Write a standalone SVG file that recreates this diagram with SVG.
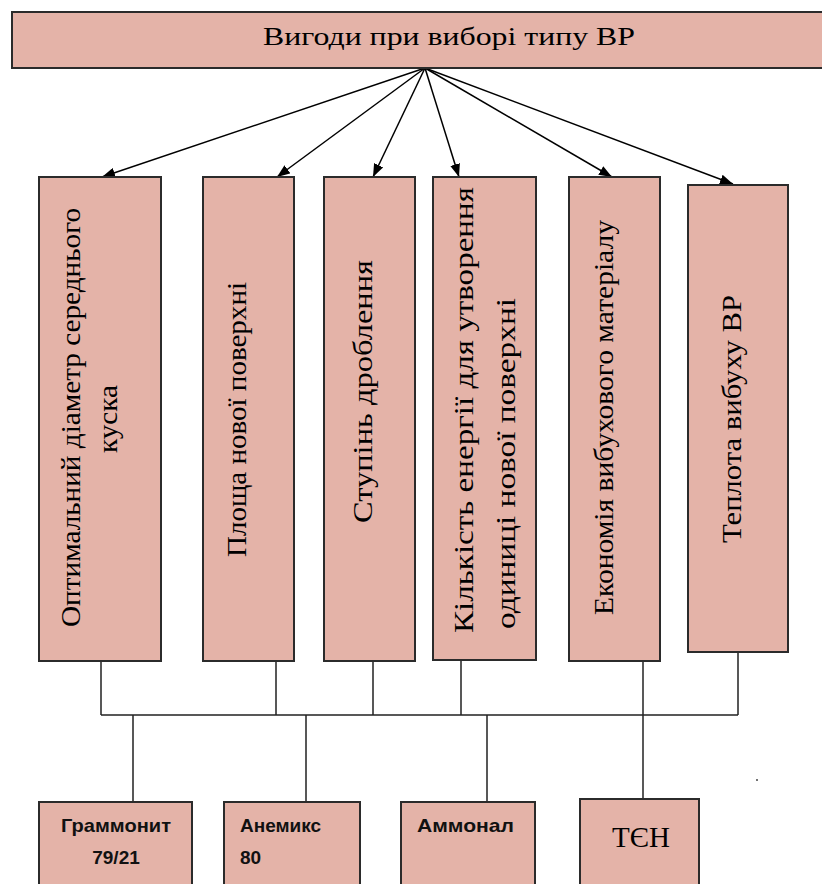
<svg xmlns="http://www.w3.org/2000/svg" width="822" height="884" viewBox="0 0 822 884">
<defs>
<marker id="ah" markerUnits="userSpaceOnUse" markerWidth="13" markerHeight="10" viewBox="0 0 13 10" refX="13" refY="5" orient="auto">
<path d="M0,0 L13,5 L0,10 z" fill="#000"/>
</marker>
<style>
.box{fill:#e4b3a8;stroke:#2b2b2b;stroke-width:2}
.tv{font-family:"Liberation Serif","Times New Roman",serif;font-size:27px;fill:#000}
.tb{font-family:"Liberation Sans",Arial,sans-serif;font-size:19px;font-weight:bold;fill:#111}
.arr{stroke:#000;stroke-width:1.5;fill:none;marker-end:url(#ah)}
.ln{stroke:#222;stroke-width:1.5;fill:none}
</style>
</defs>
<rect width="822" height="884" fill="#fff"/>

<g id="connectors">
<line class="arr" x1="425" y1="68" x2="102" y2="177"/>
<line class="arr" x1="425" y1="68" x2="277" y2="177"/>
<line class="arr" x1="425" y1="68" x2="373" y2="177"/>
<line class="arr" x1="425" y1="68" x2="459" y2="177"/>
<line class="arr" x1="425" y1="68" x2="612" y2="177"/>
<line class="arr" x1="425" y1="68" x2="733" y2="184"/>
<path class="ln" d="M101,661 V715 M276,661 V715 M373,661 V715 M461,661 V715 M738,652 V715 M101,715 H738"/>
<path class="ln" d="M643,661 V799"/>
<path class="ln" d="M133,715 V802 M306,715 V802 M487,715 V802"/>
</g>

<g id="top">
<rect class="box" x="12" y="12" width="820" height="56"/>
<text x="449" y="45" text-anchor="middle" font-family="'Liberation Serif','Times New Roman',serif" font-size="25" textLength="372" lengthAdjust="spacingAndGlyphs">Вигоди при виборі типу ВР</text>
</g>

<g id="n1">
<rect class="box" x="39" y="177" width="122" height="484"/>
<text class="tv" transform="translate(80,417.5) rotate(-90)" text-anchor="middle" textLength="419" lengthAdjust="spacingAndGlyphs">Оптимальний діаметр середнього</text>
<text class="tv" transform="translate(117,419) rotate(-90)" text-anchor="middle" textLength="68" lengthAdjust="spacingAndGlyphs">куска</text>
</g>

<g id="n2">
<rect class="box" x="203" y="177" width="91" height="484"/>
<text class="tv" transform="translate(246,419.5) rotate(-90)" text-anchor="middle" textLength="275" lengthAdjust="spacingAndGlyphs">Площа нової поверхні</text>
</g>

<g id="n3">
<rect class="box" x="324" y="177" width="91" height="484"/>
<text class="tv" transform="translate(372,391.5) rotate(-90)" text-anchor="middle" textLength="263" lengthAdjust="spacingAndGlyphs">Ступінь дроблення</text>
</g>

<g id="n4">
<rect class="box" x="433" y="177" width="103" height="483"/>
<text class="tv" transform="translate(473,633) rotate(-90)" textLength="446" lengthAdjust="spacingAndGlyphs">Кількість енергії для утворення</text>
<text class="tv" transform="translate(515,629) rotate(-90)" textLength="331" lengthAdjust="spacingAndGlyphs">одиниці нової  поверхні</text>
</g>

<g id="n5">
<rect class="box" x="569" y="177" width="91" height="484"/>
<text class="tv" transform="translate(613,417.5) rotate(-90)" text-anchor="middle" textLength="395" lengthAdjust="spacingAndGlyphs">Економія вибухового матеріалу</text>
</g>

<g id="n6">
<rect class="box" x="688" y="185" width="100" height="467"/>
<text class="tv" transform="translate(741,419) rotate(-90)" text-anchor="middle" textLength="248" lengthAdjust="spacingAndGlyphs">Теплота вибуху ВР</text>
</g>

<g id="b1">
<rect class="box" x="39" y="802" width="153" height="90"/>
<text class="tb" x="116" y="832" text-anchor="middle" textLength="110" lengthAdjust="spacingAndGlyphs">Граммонит</text>
<text class="tb" x="116" y="864" text-anchor="middle">79/21</text>
</g>

<g id="b2">
<rect class="box" x="224" y="802" width="136" height="90"/>
<text class="tb" x="240" y="832">Анемикс</text>
<text class="tb" x="240" y="864">80</text>
</g>

<g id="b3">
<rect class="box" x="401" y="802" width="134" height="90"/>
<text class="tb" x="417" y="832" font-weight="normal" textLength="97" lengthAdjust="spacingAndGlyphs">Аммонал</text>
</g>

<g id="b4">
<rect class="box" x="580" y="799" width="119" height="93"/>
<text x="641" y="847" text-anchor="middle" font-family="'Liberation Serif','Times New Roman',serif" font-size="29">ТЄН</text>
</g>

<circle cx="757" cy="780" r="1" fill="#444"/>
</svg>
